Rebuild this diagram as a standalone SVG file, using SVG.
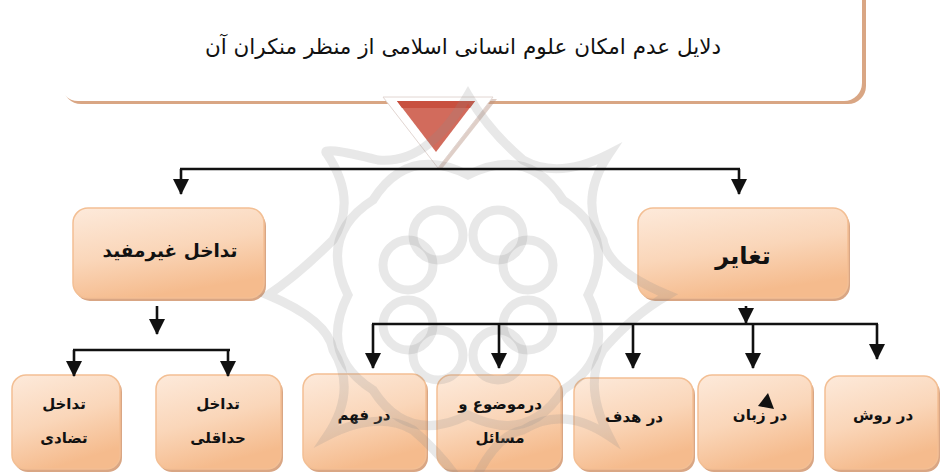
<svg xmlns="http://www.w3.org/2000/svg" width="940" height="472" viewBox="0 0 940 472">
<defs>
<linearGradient id="boxg" x1="0" y1="0" x2="0.35" y2="1">
<stop offset="0" stop-color="#fdeadb"/>
<stop offset="0.55" stop-color="#fad6b9"/>
<stop offset="1" stop-color="#f5bb8d"/>
</linearGradient>
<marker id="ah" markerUnits="userSpaceOnUse" markerWidth="16" markerHeight="16" viewBox="0 0 16 16" refX="15" refY="8" orient="auto">
<path d="M0,0 L16,8 L0,16 Z" fill="#111"/>
</marker>
<style>
.box{fill:url(#boxg);stroke:#f3bf94;stroke-width:1.5}
.sh{fill:#d9a684}
.t{font-family:"DejaVu Sans",sans-serif;font-weight:bold;fill:#111;text-anchor:middle}
.c{fill:none;stroke:#111;stroke-width:2.6}
.a{fill:none;stroke:#111;stroke-width:2.6;marker-end:url(#ah)}
.wm{fill:none;stroke:#8a8a8a;stroke-width:9;opacity:0.2}
</style>
</defs>
<rect width="940" height="472" fill="#fff"/>

<g id="title">
<rect x="63" y="-20" width="803" height="124" rx="18" fill="#d9a684"/>
<rect x="60" y="-23" width="802" height="124" rx="18" fill="#fff"/>
<text x="463" y="54" font-family="DejaVu Sans,sans-serif" font-size="21.5" text-anchor="middle" fill="#111">دلایل عدم امکان علوم انسانی اسلامی از منظر منکران آن</text>
</g>

<g id="pointer">
<polygon points="388,99 497,99 441,170" fill="#b89484" opacity="0.45"/>
<polygon points="383,97 493,97 438,168" fill="#fff" stroke="#e2d6d2" stroke-width="1"/>
<polygon points="397,101 475,101 436,152" fill="#d26b5c"/>
<polygon points="397,101 475,101 470,108 402,108" fill="#c8503f"/>
</g>

<g id="n-tadakhol">
<rect class="sh" x="75" y="211" width="191" height="90" rx="15"/>
<rect class="box" x="73" y="208" width="191" height="90" rx="15"/>
<text class="t" x="170" y="257" font-size="18.5">تداخل غیرمفید</text>
</g>
<g id="n-taghayor">
<rect class="sh" x="640" y="211" width="210" height="90" rx="15"/>
<rect class="box" x="638" y="208" width="210" height="90" rx="15"/>
<text class="t" x="743" y="264" font-size="24">تغایر</text>
</g>

<g id="n-tazadi">
<rect class="sh" x="14" y="378" width="108" height="94" rx="14"/>
<rect class="box" x="12" y="375" width="108" height="94" rx="14"/>
<text class="t" x="64" y="409" font-size="15">تداخل</text>
<text class="t" x="64" y="443" font-size="15">تضادی</text>
</g>
<g id="n-haddaqali">
<rect class="sh" x="158" y="378" width="125" height="94" rx="14"/>
<rect class="box" x="156" y="375" width="125" height="94" rx="14"/>
<text class="t" x="218" y="409" font-size="15">تداخل</text>
<text class="t" x="218" y="443" font-size="15">حداقلی</text>
</g>
<g id="n-fahm">
<rect class="sh" x="305" y="377" width="123" height="95" rx="14"/>
<rect class="box" x="303" y="374" width="123" height="95" rx="14"/>
<text class="t" x="364" y="420" font-size="15">در فهم</text>
</g>
<g id="n-mozu">
<rect class="sh" x="439" y="378" width="124" height="94" rx="14"/>
<rect class="box" x="437" y="375" width="124" height="94" rx="14"/>
<text class="t" x="500" y="409" font-size="15">درموضوع و</text>
<text class="t" x="500" y="443" font-size="15">مسائل</text>
</g>
<g id="n-hadaf">
<rect class="sh" x="576" y="381" width="119" height="91" rx="14"/>
<rect class="box" x="574" y="378" width="119" height="91" rx="14"/>
<text class="t" x="634" y="422" font-size="15">در هدف</text>
</g>
<g id="n-zaban">
<rect class="sh" x="700" y="378" width="114" height="94" rx="14"/>
<rect class="box" x="698" y="375" width="114" height="94" rx="14"/>
<text class="t" x="760" y="420" font-size="15">در زبان</text>
<polygon points="758,406 768,393 774,409" fill="#111"/>
</g>
<g id="n-ravesh">
<rect class="sh" x="827" y="379" width="113" height="93" rx="14"/>
<rect class="box" x="825" y="376" width="113" height="93" rx="14"/>
<text class="t" x="883" y="420" font-size="15">در روش</text>
</g>

<g id="watermark">
<g transform="translate(468,295)">
<circle class="wm" cx="-30" cy="-60" r="25"/>
<circle class="wm" cx="30" cy="-60" r="25"/>
<circle class="wm" cx="-30" cy="60" r="25"/>
<circle class="wm" cx="30" cy="60" r="25"/>
<circle class="wm" cx="-60" cy="-30" r="25"/>
<circle class="wm" cx="60" cy="-30" r="25"/>
<circle class="wm" cx="-60" cy="30" r="25"/>
<circle class="wm" cx="60" cy="30" r="25"/>
<path class="wm" d="M0,-200 Q-40,-130 -90,-135 Q-150,-150 -141,-141 Q-110,-95 -135,-55 Q-170,-20 -200,0 Q-140,25 -135,55 Q-110,95 -141,141 Q-90,115 -55,135 Q-20,165 0,200 Q25,140 55,135 Q95,110 141,141 Q115,90 135,55 Q165,20 200,0 Q140,-25 135,-55 Q110,-95 141,-141 Q90,-115 55,-135 Q20,-165 0,-200 Z"/>
<path class="wm" d="M-95,-95 Q-60,-150 0,-120 Q60,-150 95,-95 Q150,-60 120,0 Q150,60 95,95 Q60,150 0,120 Q-60,150 -95,95 Q-150,60 -120,0 Q-150,-60 -95,-95 Z"/>
</g>
</g>

<g id="connectors">
<path class="c" d="M180,169 H740"/>
<path class="a" d="M181,169 V194"/>
<path class="a" d="M739,169 V194"/>
<path class="a" d="M157,306 V334"/>
<path class="c" d="M73,350 H230"/>
<path class="a" d="M74,350 V376"/>
<path class="a" d="M228,350 V376"/>
<path class="a" d="M746,306 V323"/>
<path class="c" d="M372,324 H878"/>
<path class="a" d="M373,324 V368"/>
<path class="a" d="M499,324 V368"/>
<path class="a" d="M633,324 V368"/>
<path class="a" d="M753,324 V368"/>
<path class="a" d="M877,324 V359"/>
</g>
</svg>
